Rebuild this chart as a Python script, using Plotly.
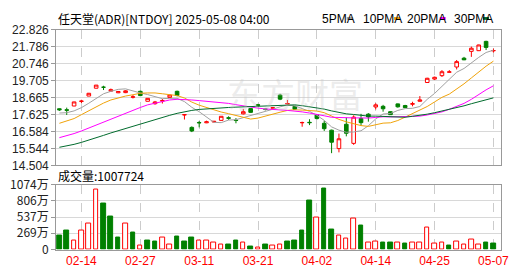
import plotly.graph_objects as go

W, H = 530, 276

dates = ["2025-02-11", "2025-02-12", "2025-02-13", "2025-02-14", "2025-02-18", "2025-02-19",
         "2025-02-20", "2025-02-21", "2025-02-24", "2025-02-25", "2025-02-26", "2025-02-27",
         "2025-02-28", "2025-03-03", "2025-03-04", "2025-03-05", "2025-03-06", "2025-03-07",
         "2025-03-10", "2025-03-11", "2025-03-12", "2025-03-13", "2025-03-14", "2025-03-17",
         "2025-03-18", "2025-03-19", "2025-03-20", "2025-03-21", "2025-03-24", "2025-03-25",
         "2025-03-26", "2025-03-27", "2025-03-28", "2025-03-31", "2025-04-01", "2025-04-02",
         "2025-04-03", "2025-04-04", "2025-04-07", "2025-04-08", "2025-04-09", "2025-04-10",
         "2025-04-11", "2025-04-14", "2025-04-15", "2025-04-16", "2025-04-17", "2025-04-21",
         "2025-04-22", "2025-04-23", "2025-04-24", "2025-04-25", "2025-04-28", "2025-04-29",
         "2025-04-30", "2025-05-01", "2025-05-02", "2025-05-05", "2025-05-06", "2025-05-07"]

opens = [17.98, 17.92, 18.15, 18.43, 18.76, 19.24, 19.30, 19.06, 18.96, 18.97,
         18.69, 19.05, 18.44, 18.29, 18.45, 18.67, 19.05, 17.60, 16.84, 17.14,
         17.12, 17.17, 17.27, 17.43, 17.28, 17.67, 17.99, 18.22, 17.97, 18.02,
         18.82, 18.27, 18.13, 17.12, 17.15, 17.61, 17.09, 16.67, 15.54, 17.03,
         15.86, 17.38, 17.65, 18.09, 18.13, 17.80, 18.28, 18.18, 18.26, 18.44,
         19.59, 19.80, 20.01, 20.22, 20.54, 21.08, 21.50, 21.54, 22.11, 21.53]
highs = [18.00, 18.05, 18.41, 18.53, 18.95, 19.44, 19.39, 19.22, 19.06, 19.12,
         18.82, 19.09, 18.63, 18.46, 18.58, 18.84, 19.09, 17.65, 16.90, 17.23,
         17.25, 17.23, 17.53, 17.52, 17.41, 17.97, 18.00, 18.28, 17.98, 18.09,
         18.90, 18.52, 18.15, 17.19, 17.34, 17.65, 17.25, 16.70, 16.46, 17.45,
         17.58, 17.67, 17.71, 18.32, 18.22, 17.82, 18.30, 18.22, 18.41, 18.76,
         19.88, 19.95, 20.35, 20.35, 20.97, 21.16, 21.79, 21.91, 22.15, 21.67]
lows = [17.85, 17.60, 18.14, 18.33, 18.75, 19.23, 19.13, 19.02, 18.94, 18.94,
        18.61, 18.75, 18.43, 18.23, 18.30, 18.65, 18.74, 17.32, 16.55, 16.84,
        17.10, 17.15, 17.26, 17.30, 17.09, 17.63, 17.74, 18.12, 17.88, 18.00,
        18.51, 18.20, 17.93, 16.88, 16.98, 17.32, 16.62, 15.26, 15.31, 16.29,
        15.77, 16.94, 17.19, 17.94, 17.80, 17.60, 18.05, 18.03, 18.13, 18.42,
        19.57, 19.74, 19.93, 20.20, 20.39, 20.96, 21.16, 21.52, 21.58, 21.43]
closes = [17.92, 17.89, 18.40, 18.45, 18.93, 19.43, 19.30, 19.15, 19.04, 19.08,
          18.71, 18.79, 18.62, 18.40, 18.48, 18.82, 18.80, 17.62, 16.62, 17.12,
          17.18, 17.21, 17.52, 17.40, 17.26, 17.80, 17.76, 18.20, 17.95, 18.04,
          18.57, 18.30, 17.95, 17.14, 17.13, 17.38, 16.76, 15.93, 16.14, 16.48,
          17.47, 17.13, 17.48, 18.22, 17.98, 17.62, 18.10, 18.05, 18.29, 18.52,
          19.85, 19.91, 20.25, 20.24, 20.87, 20.98, 21.69, 21.89, 21.74, 21.55]

# volume in units of 万 (10,000 shares)
volumes = [239, 317, 145, 317, 437, 998, 753, 551, 207, 437,
           285, 67, 145, 129, 192, 78, 223, 129, 192, 145,
           156, 109, 78, 83, 145, 109, 56, 36, 83, 67,
           78, 134, 150, 321, 816, 530, 1003, 332, 239, 176,
           515, 395, 109, 125, 114, 114, 109, 98, 109, 109,
           359, 98, 109, 67, 140, 78, 172, 78, 109, 100.7724]

ma5 = [17.72, 17.74, 17.85, 18.05, 18.32, 18.62, 18.90, 19.05, 19.17, 19.20,
       19.06, 18.95, 18.85, 18.72, 18.60, 18.62, 18.62, 18.42, 18.07, 17.80,
       17.47, 17.15, 17.13, 17.29, 17.31, 17.44, 17.55, 17.68, 17.79, 17.95,
       18.10, 18.21, 18.16, 18.00, 17.82, 17.58, 17.27, 16.87, 16.67, 16.54,
       16.56, 16.63, 16.94, 17.36, 17.66, 17.69, 17.88, 17.99, 18.01, 18.12,
       18.56, 18.92, 19.36, 19.75, 20.22, 20.45, 20.81, 21.13, 21.43, 21.57]
ma10 = [17.09, 17.22, 17.38, 17.62, 17.86, 18.10, 18.33, 18.52, 18.66, 18.76,
        18.84, 18.93, 18.95, 18.95, 18.90, 18.84, 18.79, 18.64, 18.39, 18.20,
        18.05, 17.89, 17.78, 17.68, 17.56, 17.45, 17.35, 17.41, 17.54, 17.63,
        17.77, 17.88, 17.92, 17.90, 17.88, 17.84, 17.74, 17.52, 17.33, 17.18,
        17.07, 16.95, 16.90, 17.01, 17.10, 17.12, 17.26, 17.47, 17.68, 17.89,
        18.12, 18.40, 18.68, 18.88, 19.17, 19.51, 19.87, 20.25, 20.59, 20.90]
ma20 = [16.21, 16.33, 16.46, 16.62, 16.80, 17.00, 17.19, 17.38, 17.56, 17.72,
        17.90, 18.06, 18.22, 18.33, 18.44, 18.52, 18.56, 18.56, 18.52, 18.48,
        18.44, 18.41, 18.36, 18.31, 18.23, 18.15, 18.07, 18.02, 17.97, 17.92,
        17.91, 17.88, 17.85, 17.79, 17.72, 17.65, 17.55, 17.46, 17.44, 17.41,
        17.42, 17.42, 17.41, 17.45, 17.49, 17.48, 17.50, 17.49, 17.51, 17.53,
        17.60, 17.68, 17.79, 17.95, 18.13, 18.31, 18.56, 18.86, 19.14, 19.39]
ma30 = [15.62, 15.70, 15.80, 15.92, 16.05, 16.20, 16.35, 16.50, 16.64, 16.78,
        16.92, 17.06, 17.20, 17.33, 17.45, 17.58, 17.70, 17.80, 17.88, 17.94,
        17.98, 18.01, 18.04, 18.06, 18.08, 18.10, 18.12, 18.14, 18.17, 18.20,
        18.22, 18.23, 18.22, 18.17, 18.11, 18.04, 17.96, 17.85, 17.76, 17.67,
        17.63, 17.57, 17.53, 17.53, 17.51, 17.47, 17.45, 17.46, 17.52, 17.57,
        17.65, 17.74, 17.84, 17.93, 18.05, 18.16, 18.29, 18.41, 18.54, 18.65]

price_ticks = [14.504, 15.544, 16.584, 17.625, 18.665, 19.705, 20.746, 21.786, 22.826]
vol_ticks = [0, 269, 537, 806, 1074]
vol_tick_text = ["0", "269万", "537万", "806万", "1074万"]
x_tick_dates = ["2025-02-14", "2025-02-27", "2025-03-11", "2025-03-21",
                "2025-04-02", "2025-04-14", "2025-04-25", "2025-05-07"]
x_tick_text = ["02-14", "02-27", "03-11", "03-21", "04-02", "04-14", "04-25", "05-07"]

title_text = "任天堂(ADR)[NTDOY] 2025-05-08 04:00"
ma_names = ["5PMA", "10PMA", "20PMA", "30PMA"]
ma_colors = ["#a0a0a0", "#f0a30a", "#ff00ff", "#006b2d"]

RED = "#ff0000"
GREEN = "#008000"
FONT = "Liberation Sans, Arial, sans-serif"
CJK = "Noto Sans CJK SC, sans-serif"


def px(x):
    return x / W


def py(y):
    return 1 - y / H


fig = go.Figure()

fig.add_trace(go.Candlestick(
    x=dates, open=opens, high=highs, low=lows, close=closes,
    increasing=dict(line=dict(color=RED, width=1), fillcolor="#ffffff"),
    decreasing=dict(line=dict(color=GREEN, width=1), fillcolor=GREEN),
    whiskerwidth=0, xaxis="x", yaxis="y", showlegend=False, hoverinfo="skip",
))

for name, vals, col in zip(ma_names, [ma5, ma10, ma20, ma30], ma_colors):
    fig.add_trace(go.Scatter(x=dates, y=vals, mode="lines", name=name,
                             line=dict(color=col, width=1), xaxis="x", yaxis="y",
                             showlegend=False, hoverinfo="skip"))

fill_cols, line_cols = [], []
for i, c in enumerate(closes):
    up = (c > closes[i - 1]) if i > 0 else (c >= opens[i])
    fill_cols.append("#ffffff" if up else GREEN)
    line_cols.append(RED if up else GREEN)

fig.add_trace(go.Bar(x=dates, y=volumes, xaxis="x2", yaxis="y2",
                     marker=dict(color=fill_cols, line=dict(color=line_cols, width=1)),
                     width=0.62, showlegend=False, hoverinfo="skip"))

xr = [-0.44, 60.07]
xdom = [px(57), px(509)]
common_x = dict(type="category", range=xr, domain=xdom, tickmode="array",
                tickvals=x_tick_dates, showgrid=True, gridcolor="#cccccc",
                griddash="dash", gridwidth=1, showline=True, mirror=True,
                linecolor="#999999", linewidth=1, zeroline=False, fixedrange=True)

fig.update_layout(
    width=W, height=H, margin=dict(l=0, r=0, t=0, b=0),
    paper_bgcolor="#ffffff", plot_bgcolor="#ffffff",
    bargap=0, barmode="overlay",
    xaxis=dict(**common_x, anchor="y", showticklabels=False, ticks="",
               rangeslider=dict(visible=False)),
    xaxis2=dict(**common_x, anchor="y2", ticktext=x_tick_text, showticklabels=True,
                ticks="", tickfont=dict(family=FONT, size=12, color=RED)),
    yaxis=dict(domain=[py(165.7), py(21)], range=[price_ticks[0], price_ticks[-1]],
               tickmode="array", tickvals=price_ticks,
               ticktext=[f"{v:.3f}" for v in price_ticks],
               showgrid=True, gridcolor="#d8d8d8", gridwidth=1,
               showline=True, mirror=True, linecolor="#999999", linewidth=1,
               ticks="outside", ticklen=4, tickcolor="#999999",
               tickfont=dict(family=FONT, size=12, color="#222222"),
               zeroline=False, fixedrange=True),
    yaxis2=dict(domain=[py(255.3), py(186)], range=[0, vol_ticks[-1]],
                tickmode="array", tickvals=vol_ticks, ticktext=vol_tick_text,
                showgrid=True, gridcolor="#d8d8d8", gridwidth=1,
                showline=True, mirror=True, linecolor="#999999", linewidth=1,
                ticks="outside", ticklen=4, tickcolor="#999999",
                tickfont=dict(family=CJK, size=12, color="#222222"),
                zeroline=False, fixedrange=True),
)

annotations = [
    dict(text=title_text, x=px(57), y=py(9.5), xref="paper", yref="paper",
         xanchor="left", yanchor="middle", showarrow=False,
         font=dict(family=CJK, size=12, color="#000000")),
    dict(text="成交量:" + str(int(round(volumes[-1] * 10000))), x=px(57), y=py(176),
         xref="paper", yref="paper", xanchor="left", yanchor="middle", showarrow=False,
         font=dict(family=CJK, size=12, color="#000000")),
    dict(text="东方财富", x=px(300), y=py(89), xref="paper", yref="paper",
         xanchor="center", yanchor="middle", showarrow=False,
         font=dict(family=CJK, size=34, color="rgba(200,200,200,0.35)")),
]
shapes = []
leg_text_x = [325, 366.7, 411.7, 459.3]
leg_rect_x = [352, 400, 446.5, 490.5]
for name, col, tx, rx in zip(ma_names, ma_colors, leg_text_x, leg_rect_x):
    annotations.append(dict(text=name, x=px(tx), y=py(9.5), xref="paper", yref="paper",
                            xanchor="left", yanchor="middle", showarrow=False,
                            font=dict(family=FONT, size=12, color="#000000")))
    shapes.append(dict(type="rect", xref="paper", yref="paper",
                       x0=px(rx), x1=px(rx + 6), y0=py(10.5), y1=py(7.5),
                       fillcolor=col, line=dict(width=0)))

fig.update_layout(annotations=annotations, shapes=shapes)

fig.write_html("out.html")
